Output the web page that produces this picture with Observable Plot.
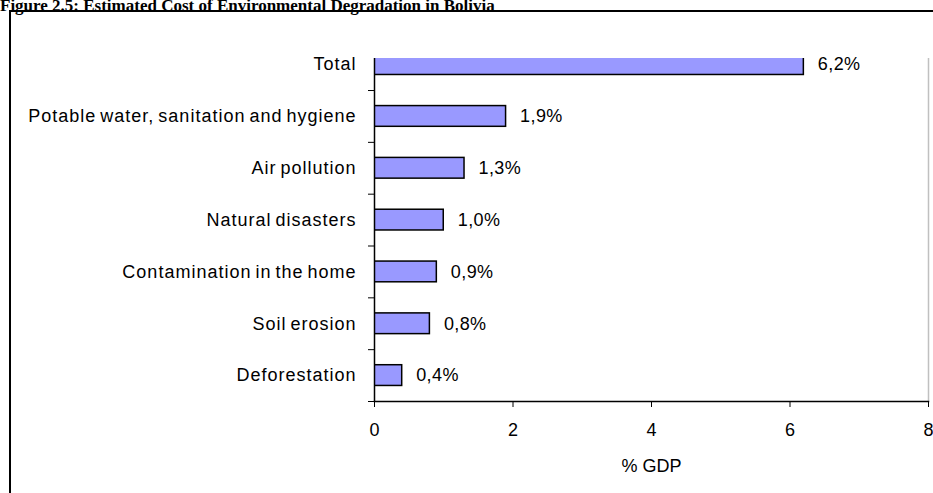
<!DOCTYPE html>
<html>
<head>
<meta charset="utf-8">
<script src="https://cdn.jsdelivr.net/npm/d3@7"></script>
<script src="https://cdn.jsdelivr.net/npm/@observablehq/plot@0.6"></script>
<style>
  html, body { margin: 0; padding: 0; background: #fff; width: 933px; height: 493px; overflow: hidden; }
  #title {
    position: absolute; left: 0; top: -3px; white-space: nowrap;
    font: bold 17px "Liberation Serif", "Times New Roman", serif; line-height: 17px;
  }
  #box {
    position: absolute; left: 9px; top: 10px; width: 1000px; height: 600px;
    border-left: 2px solid #000; border-top: 2px solid #000;
  }
  #chart { position: absolute; left: 0; top: 0; }
  /* wide, tightly spaced category labels */
  #chart g[aria-label="y-axis tick label"] { letter-spacing: 1px; word-spacing: -2px; }
  #chart g[aria-label="text"] { letter-spacing: 0.4px; }
</style>
</head>
<body>
<div id="title">Figure 2.5: Estimated Cost of Environmental Degradation in Bolivia</div>
<div id="box"></div>
<div id="chart"></div>
<script>
// Estimated cost of environmental degradation, % of GDP
const categories = [
  "Total",
  "Potable water, sanitation and hygiene",
  "Air pollution",
  "Natural disasters",
  "Contamination in the home",
  "Soil erosion",
  "Deforestation"
];
const values = [6.2, 1.9, 1.3, 1.0, 0.9, 0.8, 0.4];
const valueLabels = ["6,2%", "1,9%", "1,3%", "1,0%", "0,9%", "0,8%", "0,4%"];
const xTicks = [0, 2, 4, 6, 8];
const xDomain = [0, 8];
const xTitle = "% GDP";

const data = categories.map((c, i) => ({category: c, value: values[i], label: valueLabels[i]}));

const W = 933, H = 493;
const marginLeft = 374, marginRight = 5, marginTop = 58, marginBottom = 92;
// The first band starts above the plot frame, so the Total bar is clipped at the top.
const yRange = [38.2, H - marginBottom];
const paddingInner = 0.6, paddingOuter = paddingInner / 2;
const step = (yRange[1] - yRange[0]) / (categories.length - paddingInner + 2 * paddingOuter);
const blank = () => "";

const chart = Plot.plot({
  width: W,
  height: H,
  marginLeft, marginRight, marginTop, marginBottom,
  style: {
    background: "transparent",
    fontFamily: "'Liberation Sans', Arial, sans-serif",
    fontSize: "18px",
    color: "#000",
    overflow: "visible"
  },
  x: {domain: xDomain, ticks: xTicks},
  y: {domain: categories, range: yRange, paddingInner, paddingOuter, round: false, label: null},
  marks: [
    // light right edge of the plot area
    Plot.ruleX([xDomain[1]], {stroke: "#c0c0c0", strokeWidth: 1.5}),
    Plot.barX(data, {
      y: "category", x: "value",
      fill: "#9999ff", stroke: "#000", strokeWidth: 1.5, clip: true
    }),
    Plot.text(data, {
      y: "category", x: "value", text: "label",
      textAnchor: "start", dx: 14, fill: "#000"
    }),
    // category labels
    Plot.axisY({tickSize: 0, tickPadding: 18, label: null, fill: "#000"}),
    // tick marks between categories (band boundaries)
    Plot.axisY(categories.slice(1), {tickSize: 6, dy: -step / 2, tickFormat: blank, label: null, stroke: "#000"}),
    Plot.axisY(categories.slice(-1), {tickSize: 6, dy: step / 2, tickFormat: blank, label: null, stroke: "#000"}),
    // value axis
    Plot.axisX({
      ticks: xTicks, tickSize: 6, tickPadding: 16,
      label: xTitle, labelAnchor: "center", labelOffset: 70, labelArrow: "none",
      color: "#000"
    }),
    Plot.ruleX([xDomain[0]], {stroke: "#000", strokeWidth: 1.5}),
    Plot.frame({anchor: "bottom", stroke: "#000", strokeWidth: 1.5})
  ]
});

document.getElementById("chart").appendChild(chart);
</script>
</body>
</html>
